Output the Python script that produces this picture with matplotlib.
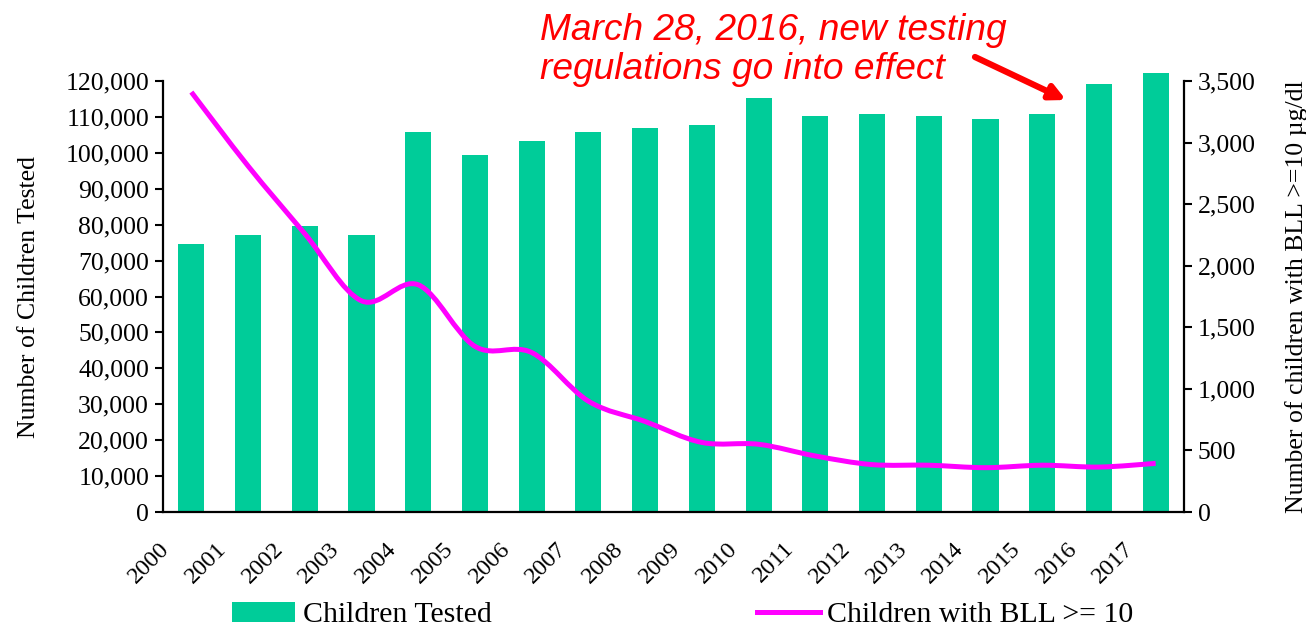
import numpy as np
import matplotlib
matplotlib.use("Agg")
import matplotlib.pyplot as plt
from matplotlib.path import Path
from matplotlib.patches import PathPatch, Patch
from matplotlib.lines import Line2D
from matplotlib.ticker import FuncFormatter
from matplotlib.transforms import ScaledTranslation

# data
years = [str(y) for y in range(2000, 2018)]
children_tested = [74600, 77100, 79600, 77100, 105800, 99400, 103300, 105800, 106900,
                   107800, 115300, 110300, 110800, 110300, 109400, 110800, 119200, 122200]
children_bll10 = [3410, 2810, 2260, 1715, 1845, 1345, 1295, 900, 735,
                  565, 550, 455, 385, 380, 360, 380, 365, 395]

bar_color = "#00CC99"
line_color = "#FF00FF"
serif = ["Liberation Serif", "DejaVu Serif"]

plt.rcParams["font.family"] = serif


def smooth_path(xs, ys):
    # Bezier segments like a spreadsheet "smoothed line"
    pts = np.column_stack([xs, ys]).astype(float)
    ext = np.vstack([pts[0], pts, pts[-1]])
    verts = [pts[0]]
    codes = [Path.MOVETO]
    for i in range(len(pts) - 1):
        p0, p1, p2, p3 = ext[i], ext[i + 1], ext[i + 2], ext[i + 3]
        c1 = p1 + (p2 - p0) / 6.0
        c2 = p2 - (p3 - p1) / 6.0
        verts += [c1, c2, p2]
        codes += [Path.CURVE4] * 3
    return Path(verts, codes)


fig = plt.figure(figsize=(13.06, 6.28), dpi=100)
ax = fig.add_axes([0.1248, 0.1847, 0.7818, 0.6863])
x = np.arange(len(years))

ax.bar(x, children_tested, width=0.46, color=bar_color, clip_on=False, zorder=2)
ax.set_ylim(0, 120000)
ax.set_yticks(np.arange(0, 120001, 10000))
ax.yaxis.set_major_formatter(FuncFormatter(lambda v, p: f"{int(v):,}"))
ax.tick_params(axis="y", labelsize=18.5, length=6, width=1.5, direction="out", pad=4)

# labels sit left of each bar: tick just left of centre, text nudged further left
ax.set_xticks(x - 0.41)
ax.set_xticklabels(years, rotation=45, ha="right", va="top", rotation_mode="anchor")
ax.tick_params(axis="x", labelsize=17.5, length=0, pad=19)
ax.set_xlim(-0.5, len(years) - 0.5)
shift = ScaledTranslation(-9 / 100, 0, fig.dpi_scale_trans)
for lab in ax.get_xticklabels():
    lab.set_transform(lab.get_transform() + shift)
ax.set_ylabel("Number of Children Tested", fontsize=18.5, labelpad=18)

for s in ["top", "right"]:
    ax.spines[s].set_visible(False)
for s in ["left", "bottom"]:
    ax.spines[s].set_linewidth(1.6)

ax2 = ax.twinx()
ax2.set_ylim(0, 3500)
ax2.set_yticks(np.arange(0, 3501, 500))
ax2.yaxis.set_major_formatter(FuncFormatter(lambda v, p: f"{int(v):,}"))
ax2.tick_params(axis="y", labelsize=18.5, length=6, width=1.5, direction="out", pad=4)
for s in ["top", "left", "bottom"]:
    ax2.spines[s].set_visible(False)
ax2.spines["right"].set_linewidth(1.6)
ax2.set_ylabel("Number of children with BLL >=10 \u00b5g/dl", fontsize=18.5, labelpad=21)

ax2.add_patch(PathPatch(smooth_path(x, children_bll10), facecolor="none",
                        edgecolor=line_color, lw=3.6, capstyle="butt", zorder=3))

# annotation
fig.text(540 / 1306, 1 - 50 / 628, "March 28, 2016, new testing\nregulations go into effect",
         color="red", style="italic", fontsize=26.7, linespacing=1.12,
         family=["Liberation Sans", "DejaVu Sans"], ha="left", va="center")
ax.annotate("", xy=(1066 / 1306, 1 - 100 / 628), xycoords="figure fraction",
            xytext=(975 / 1306, 1 - 57 / 628), textcoords="figure fraction",
            arrowprops=dict(arrowstyle="-|>,head_length=0.9,head_width=0.45",
                            color="red", lw=4.5, shrinkA=0, shrinkB=0),
            annotation_clip=False)

handles = [Patch(facecolor=bar_color, edgecolor="none"),
           Line2D([0], [0], color=line_color, lw=3.6)]
fig.legend(handles, ["Children Tested", "Children with BLL >= 10"],
           loc="center", bbox_to_anchor=(683 / 1306, 1 - 615 / 628), ncol=2,
           frameon=False, fontsize=21.5, handlelength=2.1, handleheight=0.65,
           handletextpad=0.25, columnspacing=8.9, borderpad=0, borderaxespad=0)

fig.savefig("out.png", dpi=100)
